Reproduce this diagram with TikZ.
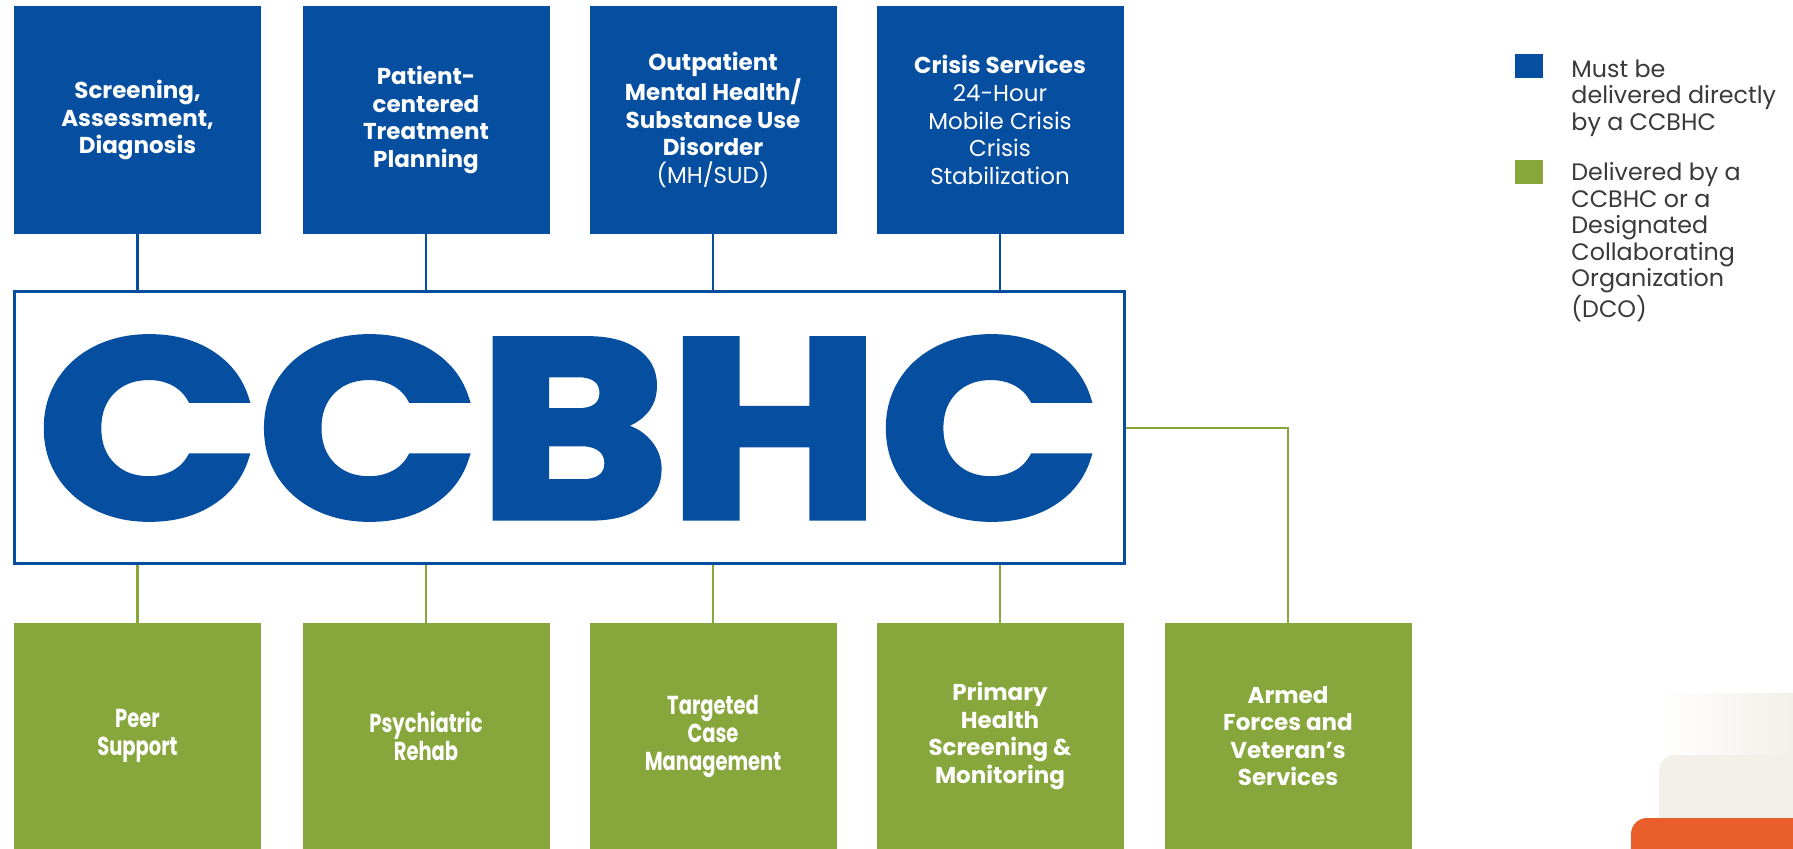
\documentclass[tikz,border=0pt]{standalone}
\usepackage{fontspec}
\setmainfont{Poppins}
\newfontfamily\condfont{Poppins}[FakeStretch=0.75]
\newfontfamily\bigfont{Poppins}[BoldFeatures={FakeBold=2.5}]
\definecolor{cblue}{HTML}{054EA0}
\definecolor{cgreen}{HTML}{87A63B}
\definecolor{corange}{HTML}{E95E2A}
\definecolor{cbeige}{HTML}{F3EFE9}
\definecolor{ctext}{HTML}{3A3A3A}
\begin{document}
\begin{tikzpicture}[x=0.5pt,y=-0.5pt,
  box/.style={minimum width=123.5pt, inner sep=0pt, align=center, text=white, font=\bfseries\fontsize{11.5}{13.8}\selectfont},
  topbox/.style={box, fill=cblue, minimum height=114pt},
  botbox/.style={box, fill=cgreen, minimum height=113pt},
  condbox/.style={botbox, font=\condfont\bfseries\fontsize{13}{14}\selectfont},
  blueline/.style={draw=cblue, line width=1.4pt},
  greenline/.style={draw=cgreen, line width=1.3pt},
  legsq/.style={minimum width=14pt, minimum height=12pt, inner sep=0pt},
  legtext/.style={anchor=north west, inner sep=0pt, align=left, text=ctext, font=\fontsize{11.9}{13.3}\selectfont}]
\useasboundingbox (0,0) rectangle (1793,849);
\fill[white] (0,0) rectangle (1793,849);
% decoration bottom right
\begin{scope}
\clip (0,0) rectangle (1793,849);
\shade[left color=white, right color=cbeige] (1660,693) rectangle (1793,760);
\fill[cbeige, rounded corners=8pt] (1659,755) rectangle (1850,900);
\fill[corange, rounded corners=8pt] (1631,818) rectangle (1850,900);
\end{scope}
% top boxes
\node[topbox] (t1) at (137.5,120) {Screening,\\Assessment,\\Diagnosis};
\node[topbox] (t2) at (426,120) {Patient-\\centered\\Treatment\\Planning};
\node[topbox] (t3) at (713,120) {Outpatient\\Mental Health/\\Substance Use\\Disorder\\{\mdseries (MH/SUD)}};
\node[topbox] (t4) at (1000,120) {Crisis Services\\{\mdseries 24-Hour}\\{\mdseries Mobile Crisis}\\{\mdseries Crisis}\\{\mdseries Stabilization}};
% central box
\node[draw=cblue, line width=1.5pt, fill=white, minimum width=555pt, minimum height=136pt, inner sep=0pt] (cc) at (569,428) {};
\node[inner sep=0pt, text=cblue] (cctext) at (569,428) {\resizebox{531pt}{90pt}{\bigfont\bfseries CCBHC}};
% bottom boxes
\node[condbox] (b1) at (137.5,736) {Peer\\Support};
\node[condbox] (b2) at (426,736) {Psychiatric\\Rehab};
\node[condbox] (b3) at (713,736) {Targeted\\Case\\Management};
\node[botbox] (b4) at (1000,736) {Primary\\Health\\Screening \&\\Monitoring};
\node[botbox] (b5) at (1288,736) {Armed\\Forces and\\Veteran’s\\Services};
% connectors
\foreach \i in {1,2,3,4}{
  \draw[blueline] (t\i.south) -- (t\i.south |- cc.north);
  \draw[greenline] (b\i.north) -- (b\i.north |- cc.south);
}
\draw[greenline] (cc.east) -| (b5.north);
% legend
\node[legsq, fill=cblue] (lb) at (1529,66) {};
\node[legsq, fill=cgreen] (lg) at (1529,172) {};
\node[legtext] (lbt) at (1571,59) {Must be\\delivered directly\\by a CCBHC};
\node[legtext] (lgt) at (1571,162) {Delivered by a\\CCBHC or a\\Designated\\Collaborating\\Organization\\(DCO)};
\end{tikzpicture}
\end{document}
